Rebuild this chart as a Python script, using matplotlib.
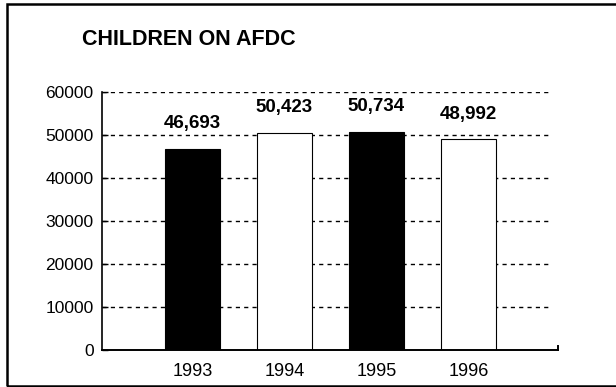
import matplotlib
matplotlib.use("Agg")
import matplotlib.pyplot as plt
from matplotlib.patches import Rectangle

years = ["1993", "1994", "1995", "1996"]
children = [46693, 50423, 50734, 48992]
value_labels = ["46,693", "50,423", "50,734", "48,992"]
bar_colors = ["black", "white", "black", "white"]
y_ticks = [0, 10000, 20000, 30000, 40000, 50000, 60000]
title = "CHILDREN ON AFDC"

W, H = 616, 387
plt.rcParams['font.family'] = ['Liberation Sans', 'DejaVu Sans']
fig = plt.figure(figsize=(W / 100, H / 100), dpi=100)
fig.patch.set_facecolor("white")

# outer frame (left, top, bottom visible)
fig.add_artist(Rectangle((7 / W, 1 - 386 / H), 1.0, (386 - 4) / H,
                         transform=fig.transFigure, fill=False,
                         edgecolor="black", linewidth=1.8))

ax = fig.add_axes([102 / W, 1 - 350 / H, (558 - 102) / W, (350 - 92) / H])
x = list(range(len(years)))

ax.set_xlim(-0.98, 3.97)
ax.set_ylim(0, 60000)

# dashed grid lines
ax.hlines(y_ticks[1:], -0.98, 3.86, colors="black", linewidth=1.0,
          linestyles=(0, (3, 3)), zorder=1)

ax.bar(x, children, width=0.6, color=bar_colors, edgecolor="black",
       linewidth=0.8, zorder=2)

for xi, v, lab in zip(x, children, value_labels):
    ax.annotate(lab, (xi, v), xytext=(0, 15), textcoords="offset points",
                ha="center", va="baseline", fontsize=13.5, fontweight="bold")

ax.set_xticks(x)
ax.set_xticklabels(years, fontsize=13)
ax.set_yticks(y_ticks)
ax.set_yticklabels([str(t) for t in y_ticks], fontsize=12.5)
ax.tick_params(axis="x", length=0, pad=9)
ax.tick_params(axis="y", direction="in", length=4, width=1.0, pad=6)

ax.spines["top"].set_visible(False)
ax.spines["right"].set_bounds(0, 1000)
ax.spines["left"].set_linewidth(1.2)
ax.spines["bottom"].set_linewidth(1.4)
ax.spines["right"].set_linewidth(1.4)
ax.set_facecolor("none")

fig.text(82 / W, 1 - 45 / H, title, fontsize=15.5, fontweight="bold",
         ha="left", va="baseline")

fig.savefig("out.png", dpi=100)
